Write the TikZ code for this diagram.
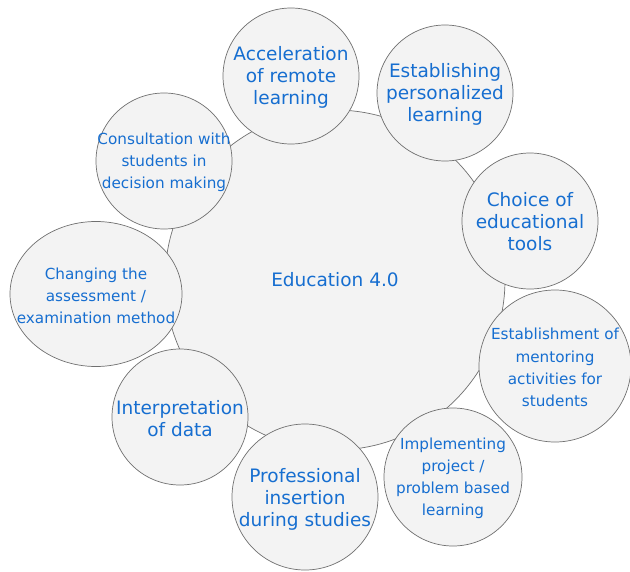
\documentclass[tikz,border=0pt]{standalone}
\usepackage{fontspec}
\setmainfont{DejaVu Sans}
\usepackage{tikz}
\usetikzlibrary{shapes.geometric}
\definecolor{rimgray}{RGB}{112,112,112}
\definecolor{bubblefill}{RGB}{243,243,243}
\definecolor{textblue}{RGB}{22,110,208}

\begin{document}
\begin{tikzpicture}[
    x=0.3mm, y=-0.3mm,
    % Node styles (sizes are radii in drawing units)
    bubble/.style={circle, draw=rimgray, fill=bubblefill, line width=0.6pt,
                   minimum size=#1*0.6mm, inner sep=0pt},
    oval/.style 2 args={ellipse, draw=rimgray, fill=bubblefill, line width=0.6pt,
                   minimum width=#1*0.6mm, minimum height=#2*0.6mm, inner sep=0pt},
    big/.style={text=textblue, align=center, inner sep=0pt,
                font=\fontsize{15.8}{18.8}\selectfont},
    small/.style={text=textblue, align=center, inner sep=0pt,
                  font=\fontsize{13}{18.8}\selectfont}
]
\useasboundingbox (0,0) rectangle (630,571);

% Central topic
\node (hub) [bubble=170] at (335,280) {};
\node (hubt) [big] at (hub) {Education 4.0};

% Surrounding bubbles
\node (accel) [bubble=68] at (291,76) {};
\node (person) [bubble=68] at (445,93) {};
\node (tools) [bubble=68] at (530,221) {};
\node (mentor) [bubble=76] at (555,366) {};
\node (project) [bubble=69] at (453,477) {};
\node (insert) [bubble=73] at (305,497) {};
\node (data) [bubble=68] at (180,417) {};
\node (exam) [oval={86}{72.5}] at (96,294) {};
\node (consult) [bubble=68] at (164,161) {};

% Labels
\node [big] at ([yshift=-0.3mm]accel) {Acceleration\\of remote\\learning};
\node [big] at ([yshift=-0.3mm]person) {Establishing\\personalized\\learning};
\node [big] at ([yshift=-0.3mm]tools) {Choice of\\educational\\tools};
\node [small] at ([yshift=-0.4mm]mentor) {Establishment of\\mentoring\\activities for\\students};
\node [small] at ([yshift=-0.4mm]project) {Implementing\\project /\\problem based\\learning};
\node [big] at ([yshift=-0.6mm]insert) {Professional\\insertion\\during studies};
\node [big] at ([yshift=-0.4mm]data) {Interpretation\\of data};
\node [small] at ([yshift=-0.5mm]exam) {Changing the\\assessment /\\examination method};
\node [small] at ([yshift=-0.5mm]consult) {Consultation with\\students in\\decision making};

\end{tikzpicture}
\end{document}
